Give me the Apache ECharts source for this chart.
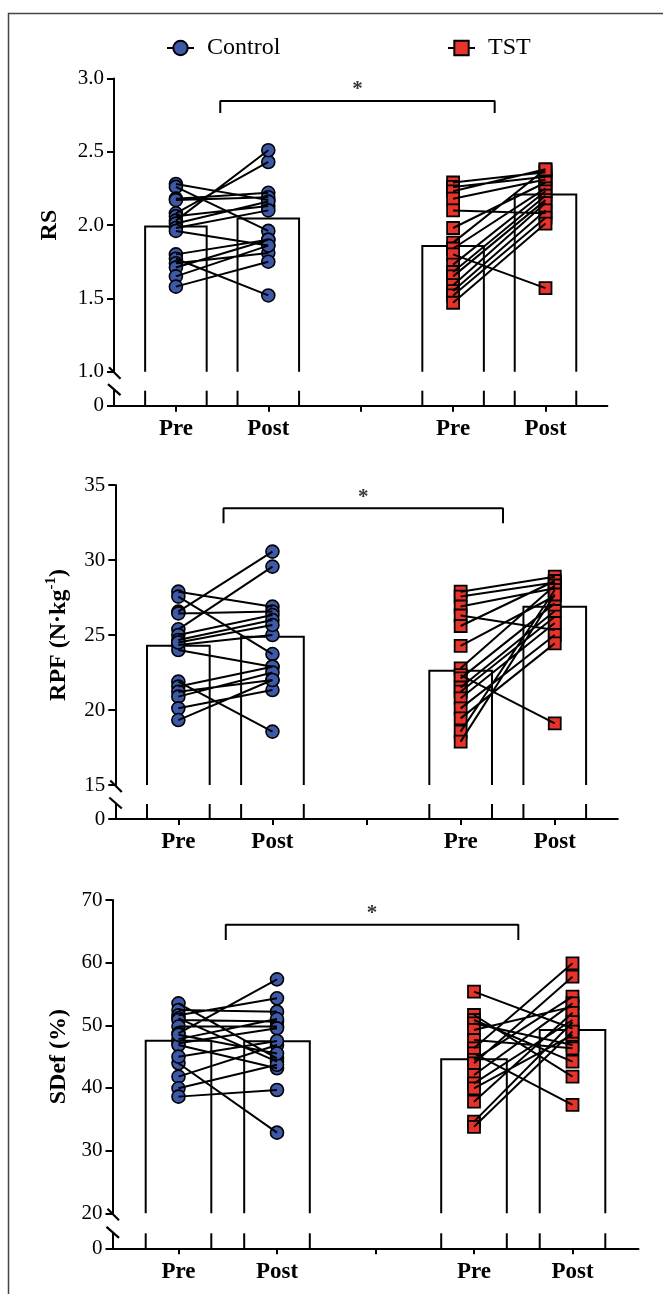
<!DOCTYPE html>
<html><head><meta charset="utf-8">
<script src="https://cdn.jsdelivr.net/npm/echarts@6/dist/echarts.min.js"></script>
<style>html,body{margin:0;padding:0;background:#fff}#c{width:663px;height:1294px}</style>
</head><body><div id="c"></div><script>
// ---------- data ----------
const categories = ['Pre', 'Post', '', 'Pre', 'Post'];
const catPos = [1, 2, 3, 4, 5];
const groupNames = ['Control', 'TST'];

// RS
const rsCtrlPre  = [2.28, 2.26, 2.18, 2.17, 2.08, 2.06, 2.03, 2.01, 1.98, 1.96, 1.80, 1.77, 1.74, 1.71, 1.65, 1.58];
const rsCtrlPost = [2.17, 1.96, 2.22, 2.19, 2.43, 2.13, 2.51, 2.16, 2.10, 1.86, 1.90, 1.52, 1.81, 1.90, 1.86, 1.75];
const rsTstPre   = [2.29, 2.26, 2.23, 2.18, 2.10, 1.98, 1.88, 1.84, 1.80, 1.73, 1.68, 1.65, 1.59, 1.55, 1.52, 1.47];
const rsTstPost  = [2.36, 2.33, 2.38, 2.31, 2.08, 2.29, 2.38, 2.25, 1.57, 2.23, 2.20, 2.17, 2.15, 2.10, 2.05, 2.01];
const rsMeans    = [1.99, 2.045, 1.857, 2.209];
const rsBracket  = [1.48, 4.45, 2.846, 2.764];

// RPF
const rpfCtrlPre  = [27.89, 27.56, 26.56, 26.44, 25.38, 25.0, 24.67, 24.33, 24.0, 21.89, 21.56, 21.22, 20.89, 20.11, 19.33, 24.5];
const rpfCtrlPost = [26.89, 23.73, 30.56, 26.56, 29.56, 26.33, 26.0, 25.0, 22.89, 18.56, 22.89, 22.0, 22.5, 21.33, 22.0, 25.67];
const rpfTstPre   = [27.89, 27.56, 26.9, 26.3, 25.6, 24.27, 22.78, 22.33, 22.11, 21.5, 21.22, 20.78, 20.11, 19.44, 18.56, 17.89];
const rpfTstPost  = [28.89, 28.5, 28.11, 25.33, 28.6, 27.6, 28.3, 19.11, 27.11, 26.6, 26.22, 25.8, 25.0, 24.44, 28.0, 27.7];
const rpfMeans    = [24.29, 24.89, 22.62, 26.89];
const rpfBracket  = [1.48, 4.45, 33.45, 32.45];

// SDef
const sdCtrlPre  = [53.51, 52.45, 51.6, 51.12, 50.85, 49.8, 48.72, 47.8, 47.13, 46.86, 43.94, 41.81, 39.95, 38.62, 45.0, 48.5];
const sdCtrlPost = [44.73, 52.18, 54.31, 44.2, 50.59, 49.8, 57.34, 51.0, 49.52, 43.14, 32.87, 46.86, 43.7, 39.68, 47.5, 45.5];
const sdTstPre   = [55.37, 51.65, 50.85, 50.3, 49.26, 47.66, 46.33, 45.53, 44.5, 43.94, 42.07, 40.74, 39.95, 37.82, 34.63, 33.8];
const sdTstPost  = [49.5, 41.81, 44.2, 46.86, 52.98, 46.33, 59.89, 37.29, 54.57, 57.77, 53.5, 50.85, 48.46, 52.0, 50.5, 49.0];
const sdMeans    = [47.55, 47.45, 44.57, 49.26];
const sdBracket  = [1.48, 4.45, 66.06, 63.6];

// ---------- layout / style ----------
const FONT = 'Liberation Serif';
const BLUE = '#3d59a8', RED = '#e8332a';
const HALF = 0.333;
const panels = [
  { title: 'RS', ctrlPre: rsCtrlPre, ctrlPost: rsCtrlPost, tstPre: rsTstPre, tstPost: rsTstPost, means: rsMeans, bracket: rsBracket,
    min: 1, max: 3, interval: 0.5, dec: 1, left: 114, width: 493.4, top: 78.4, h: 293.3, lowTop: 390.7, lowH: 15, nameGap: 52 },
  { title: '{a|RPF (N·kg}{s|-1}{a|)}', ctrlPre: rpfCtrlPre, ctrlPost: rpfCtrlPost, tstPre: rpfTstPre, tstPost: rpfTstPost, means: rpfMeans, bracket: rpfBracket,
    min: 15, max: 35, interval: 5, dec: 0, left: 115.3, width: 502.5, top: 485, h: 300, lowTop: 804, lowH: 15, nameGap: 42 },
  { title: 'SDef (%)', ctrlPre: sdCtrlPre, ctrlPost: sdCtrlPost, tstPre: sdTstPre, tstPost: sdTstPost, means: sdMeans, bracket: sdBracket,
    min: 20, max: 70, interval: 10, dec: 0, left: 112.5, width: 526, top: 900, h: 313.3, lowTop: 1233.3, lowH: 15, nameGap: 42 }
];

function pairData(pre, post, xa, xb) {
  const d = [];
  pre.forEach((v, i) => { d.push([xa, v], [xb, post[i]], ['-', '-']); });
  return d;
}
function pointData(pre, post, xa, xb) {
  return pre.map(v => [xa, v]).concat(post.map(v => [xb, v]));
}
function upperBar(params, api) {
  const x = api.value(0), m = api.value(1);
  const cs = params.coordSys;
  const bottom = cs.y + cs.height;
  const pL = api.coord([x - HALF, m]), pR = api.coord([x + HALF, m]);
  return { type: 'polyline', shape: { points: [[pL[0], bottom], [pL[0], pL[1]], [pR[0], pR[1]], [pR[0], bottom]] },
    style: { fill: null, stroke: '#000', lineWidth: 2 } };
}
function lowerBar(params, api) {
  const x = api.value(0);
  const cs = params.coordSys;
  const bottom = cs.y + cs.height;
  const xl = api.coord([x - HALF, 0])[0], xr = api.coord([x + HALF, 0])[0];
  return { type: 'group', children: [
    { type: 'line', shape: { x1: xl, y1: bottom, x2: xl, y2: cs.y }, style: { stroke: '#000', lineWidth: 2 } },
    { type: 'line', shape: { x1: xr, y1: bottom, x2: xr, y2: cs.y }, style: { stroke: '#000', lineWidth: 2 } }
  ] };
}
function upperSlash(params) {
  const cs = params.coordSys; const b = cs.y + cs.height;
  return { type: 'line', shape: { x1: cs.x - 5, y1: b - 4.5, x2: cs.x + 6.5, y2: b + 7 }, style: { stroke: '#000', lineWidth: 2.2 } };
}
function lowerSlash(params) {
  const cs = params.coordSys;
  return { type: 'line', shape: { x1: cs.x - 6, y1: cs.y - 6.5, x2: cs.x + 6.5, y2: cs.y + 4.5 }, style: { stroke: '#000', lineWidth: 2.2 } };
}

const grid = [], xAxis = [], yAxis = [], series = [];
panels.forEach((p, k) => {
  const gi = 2 * k, gl = 2 * k + 1;
  grid.push({ left: p.left, top: p.top, width: p.width, height: p.h });
  grid.push({ left: p.left, top: p.lowTop, width: p.width, height: p.lowH });
  const xmin = catPos[0] - 0.67, xmax = catPos[catPos.length - 1] + 0.67;
  xAxis.push({ gridIndex: gi, type: 'value', min: xmin, max: xmax, show: false });
  xAxis.push({ gridIndex: gl, type: 'value', min: xmin, max: xmax, position: 'bottom',
    axisLine: { onZero: false, lineStyle: { color: '#000', width: 2 } },
    axisTick: { customValues: catPos, length: 6, lineStyle: { color: '#000', width: 2 } },
    axisLabel: { customValues: catPos, formatter: v => categories[Math.round(v) - 1], fontFamily: FONT, fontSize: 23, fontWeight: 'bold', color: '#000', margin: 12 },
    splitLine: { show: false } });
  yAxis.push({ gridIndex: gi, type: 'value', min: p.min, max: p.max, interval: p.interval,
    name: p.title, nameLocation: 'middle', nameRotate: 90, nameGap: p.nameGap,
    nameTextStyle: { fontFamily: FONT, fontSize: 24, fontWeight: 'bold', color: '#000',
      rich: { a: { fontFamily: FONT, fontSize: 24, fontWeight: 'bold', color: '#000' },
              s: { fontFamily: FONT, fontSize: 15, fontWeight: 'bold', color: '#000', verticalAlign: 'top', lineHeight: 30 } } },
    axisLine: { show: true, lineStyle: { color: '#000', width: 2 } },
    axisTick: { show: true, length: 7, lineStyle: { color: '#000', width: 2 } },
    axisLabel: { fontFamily: FONT, fontSize: 21, color: '#000', margin: 10, formatter: v => v.toFixed(p.dec) },
    splitLine: { show: false } });
  yAxis.push({ gridIndex: gl, type: 'value', min: 0, max: 1,
    axisLine: { show: true, onZero: false, lineStyle: { color: '#000', width: 2 } },
    axisTick: { show: true, customValues: [0], length: 7, lineStyle: { color: '#000', width: 2 } },
    axisLabel: { customValues: [0], fontFamily: FONT, fontSize: 21, color: '#000', margin: 10, formatter: v => '0' },
    splitLine: { show: false } });

  const meanData = [[catPos[0], p.means[0]], [catPos[1], p.means[1]], [catPos[3], p.means[2]], [catPos[4], p.means[3]]];
  series.push({ type: 'custom', xAxisIndex: gi, yAxisIndex: gi, renderItem: upperBar, data: meanData, z: 1, silent: true });
  series.push({ type: 'custom', xAxisIndex: gl, yAxisIndex: gl, renderItem: lowerBar, data: meanData, z: 1, silent: true });
  series.push({ type: 'custom', xAxisIndex: gi, yAxisIndex: gi, renderItem: upperSlash, data: [[catPos[0], p.min]], z: 5, silent: true, clip: false });
  series.push({ type: 'custom', xAxisIndex: gl, yAxisIndex: gl, renderItem: lowerSlash, data: [[catPos[0], 0]], z: 5, silent: true, clip: false });
  series.push({ type: 'scatter', name: 'Control pts', xAxisIndex: gi, yAxisIndex: gi, symbol: 'circle', symbolSize: 13,
    itemStyle: { color: BLUE, borderColor: '#000', borderWidth: 1.6, opacity: 1 },
    data: pointData(p.ctrlPre, p.ctrlPost, catPos[0], catPos[1]), z: 3, silent: true });
  series.push({ type: 'scatter', name: 'TST pts', xAxisIndex: gi, yAxisIndex: gi, symbol: 'rect', symbolSize: 12,
    itemStyle: { color: RED, borderColor: '#000', borderWidth: 1.8, opacity: 1 },
    data: pointData(p.tstPre, p.tstPost, catPos[3], catPos[4]), z: 3, silent: true });
  series.push({ type: 'line', name: 'Control lines', xAxisIndex: gi, yAxisIndex: gi, showSymbol: false, symbol: 'none',
    lineStyle: { color: '#000', width: 2 }, data: pairData(p.ctrlPre, p.ctrlPost, catPos[0], catPos[1]), z: 4, silent: true });
  series.push({ type: 'line', name: 'TST lines', xAxisIndex: gi, yAxisIndex: gi, showSymbol: false, symbol: 'none',
    lineStyle: { color: '#000', width: 2 }, data: pairData(p.tstPre, p.tstPost, catPos[3], catPos[4]), z: 4, silent: true });
  const b = p.bracket;
  series.push({ type: 'line', name: 'bracket', xAxisIndex: gi, yAxisIndex: gi, showSymbol: false, symbol: 'none',
    lineStyle: { color: '#000', width: 2 }, data: [[b[0], b[3]], [b[0], b[2]], [b[1], b[2]], [b[1], b[3]]], z: 4, silent: true });
  series.push({ type: 'scatter', name: 'star', xAxisIndex: gi, yAxisIndex: gi, symbolSize: 1,
    itemStyle: { color: 'rgba(0,0,0,0)' }, data: [[(b[0] + b[1]) / 2, b[2]]],
    label: { show: true, position: 'top', distance: 0, formatter: '*', fontFamily: FONT, fontSize: 21, fontWeight: 'bold', color: '#000' }, z: 4, silent: true });
});
// legend carrier series
series.push({ type: 'line', name: groupNames[0], xAxisIndex: 0, yAxisIndex: 0, data: [], symbol: 'circle', symbolSize: 16,
  itemStyle: { color: BLUE, borderColor: '#000', borderWidth: 1.8 }, lineStyle: { color: '#000', width: 2.5 } });
series.push({ type: 'line', name: groupNames[1], xAxisIndex: 0, yAxisIndex: 0, data: [], symbol: 'rect', symbolSize: 16,
  itemStyle: { color: RED, borderColor: '#000', borderWidth: 2 }, lineStyle: { color: '#000', width: 2.5 } });

const legendText = { fontFamily: FONT, fontSize: 24, color: '#000', padding: [0, 0, 0, 8] };
const chart = echarts.init(document.getElementById('c'), null, { renderer: 'canvas' });
chart.setOption({
  animation: false,
  backgroundColor: '#fff',
  textStyle: { fontFamily: FONT },
  legend: [
    { data: [groupNames[0]], left: 161, top: 31, itemWidth: 27, itemHeight: 18, textStyle: legendText, selectedMode: false },
    { data: [groupNames[1]], left: 442, top: 31, itemWidth: 27, itemHeight: 18, textStyle: legendText, selectedMode: false }
  ],
  graphic: [{ type: 'rect', shape: { x: 8.5, y: 13.5, width: 720, height: 1400 }, style: { fill: null, stroke: '#444', lineWidth: 1.5 }, silent: true }],
  grid, xAxis, yAxis, series
});
</script></body></html>
